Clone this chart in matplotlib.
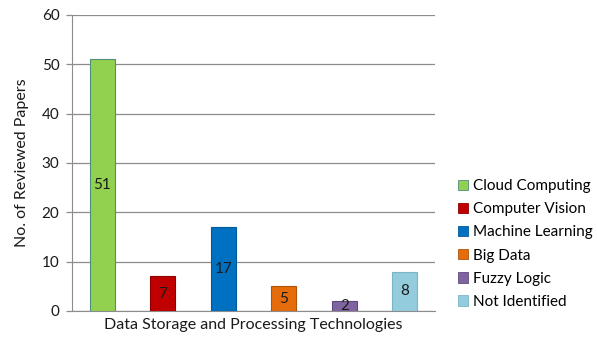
import matplotlib.pyplot as plt
from matplotlib.patches import Patch

categories = ["Cloud Computing", "Computer Vision", "Machine Learning",
              "Big Data", "Fuzzy Logic", "Not Identified"]
papers = [51, 7, 17, 5, 2, 8]
colors = ["#92D050", "#C00000", "#0070C0", "#E46C0A", "#8064A2", "#93CDDD"]
edges = ["#4F8F7A", "#8B0000", "#005A9A", "#B0540A", "#5F4A80", "#7AB5C5"]

plt.rcParams["font.family"] = ["Lato", "DejaVu Sans"]

fig = plt.figure(figsize=(5.97, 3.38), dpi=100)
ax = fig.add_axes([72 / 597, 27 / 338, 363 / 597, 296 / 338])

x = list(range(len(categories)))
ax.bar(x, papers, width=0.41, color=colors, edgecolor=edges, linewidth=0.8, zorder=3)
for xi, v in zip(x, papers):
    ax.text(xi, v / 2, str(v), ha="center", va="center", fontsize=11,
            color="#1a1a1a", zorder=4)

ax.set_xlim(-0.5, 5.5)
ax.set_ylim(0, 60)
ax.set_yticks(range(0, 61, 10))
ax.set_xticks([])
ax.yaxis.grid(True, color="#8c8c8c", linewidth=0.9, zorder=0)
for s in ["top", "right"]:
    ax.spines[s].set_visible(False)
ax.spines["left"].set_color("#8c8c8c")
ax.spines["bottom"].set_color("#8c8c8c")
ax.tick_params(axis="y", colors="#8c8c8c", labelcolor="#1a1a1a", labelsize=11,
               length=4, width=0.9, pad=5)

ax.set_ylabel("No. of Reviewed Papers", fontsize=11.5, color="#1a1a1a", labelpad=9)
ax.set_xlabel("Data Storage and Processing Technologies", fontsize=11.5,
              color="#1a1a1a", labelpad=5)

handles = [Patch(facecolor=c, edgecolor=e, linewidth=0.6) for c, e in zip(colors, edges)]
fig.legend(handles, categories, loc="upper left", bbox_to_anchor=(452 / 597, 1 - 173 / 338),
           frameon=False, fontsize=11, handlelength=0.65, handleheight=0.65,
           handletextpad=0.3, labelspacing=0.6, borderaxespad=0)

fig.savefig("out.png", dpi=100)
